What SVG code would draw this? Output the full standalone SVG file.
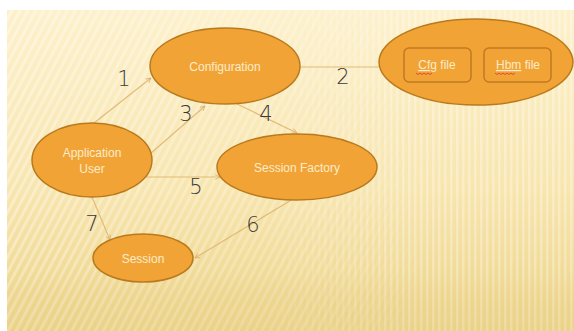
<svg xmlns="http://www.w3.org/2000/svg" width="574" height="331" viewBox="0 0 574 331">
  <defs>
    <linearGradient id="bg" x1="0" y1="0" x2="0" y2="1">
      <stop offset="0" stop-color="#fdf1cc"/>
      <stop offset="0.55" stop-color="#f8e6b0"/>
      <stop offset="0.82" stop-color="#f1db98"/>
      <stop offset="1" stop-color="#ecd38a"/>
    </linearGradient>
    <linearGradient id="band" x1="0" y1="0" x2="0" y2="1">
      <stop offset="0" stop-color="#e9cf85" stop-opacity="0"/>
      <stop offset="0.4" stop-color="#e9cf85" stop-opacity="0.2"/>
      <stop offset="1" stop-color="#e9cf85" stop-opacity="0.3"/>
    </linearGradient>
    <pattern id="stripes" width="7" height="7" patternUnits="userSpaceOnUse" patternTransform="rotate(28)">
      <rect width="3" height="7" fill="#ffffff" opacity="0.35"/>
    </pattern>
    <pattern id="vstripes" width="6" height="6" patternUnits="userSpaceOnUse">
      <rect width="2.5" height="6" fill="#ffffff" opacity="0.3"/>
    </pattern>
    <linearGradient id="fadeL" x1="0" y1="0" x2="1" y2="0">
      <stop offset="0" stop-color="#fff" stop-opacity="1"/>
      <stop offset="0.55" stop-color="#fff" stop-opacity="0.6"/>
      <stop offset="0.75" stop-color="#fff" stop-opacity="0"/>
    </linearGradient>
    <linearGradient id="fadeR" x1="0" y1="0" x2="1" y2="0">
      <stop offset="0.45" stop-color="#fff" stop-opacity="0"/>
      <stop offset="0.7" stop-color="#fff" stop-opacity="1"/>
    </linearGradient>
    <mask id="mL"><rect x="0" y="0" width="574" height="331" fill="url(#fadeL)"/></mask>
    <mask id="mR"><rect x="0" y="0" width="574" height="331" fill="url(#fadeR)"/></mask>
    <marker id="arr" viewBox="0 0 10 10" refX="9" refY="5" markerWidth="6" markerHeight="6" orient="auto" markerUnits="userSpaceOnUse">
      <path d="M1,1 L9,5 L1,9" fill="none" stroke="#dcb070" stroke-width="1.4"/>
    </marker>
  </defs>
  <style>
    .node { fill: #f1a435; stroke: #b97a1e; stroke-width: 1.5; }
    .box { fill: #f1a435; stroke: #c07a22; stroke-width: 1.5; }
    .lbl { font-family: "Liberation Sans", Arial, sans-serif; font-size: 12px; fill: #fcebcb; text-anchor: middle; }
    .num { font-family: "DejaVu Sans", "Liberation Sans", sans-serif; font-size: 21px; fill: #3a3a3a; font-weight: 300; text-anchor: middle; }
    .edge { stroke: #e2bb78; stroke-width: 1.2; fill: none; }
    .wave { stroke: #d33; stroke-width: 0.8; fill: none; }
  </style>

  <rect width="574" height="331" fill="#ffffff"/>
  <rect x="7" y="10" width="567" height="321" fill="url(#bg)"/>
  <rect x="7" y="10" width="567" height="321" fill="url(#stripes)" mask="url(#mL)"/>
  <rect x="7" y="10" width="567" height="321" fill="url(#vstripes)" mask="url(#mR)"/>
  <rect x="7" y="270" width="567" height="61" fill="url(#band)"/>

  <g id="connectors">
    <line class="edge" x1="94" y1="123" x2="151" y2="78" marker-end="url(#arr)"/>
    <line class="edge" x1="300" y1="67" x2="380" y2="67"/>
    <line class="edge" x1="150" y1="154" x2="205" y2="106" marker-end="url(#arr)"/>
    <line class="edge" x1="237" y1="104" x2="297" y2="133" marker-end="url(#arr)"/>
    <line class="edge" x1="143" y1="177" x2="220" y2="177" marker-end="url(#arr)"/>
    <line class="edge" x1="293" y1="199" x2="195" y2="258" marker-end="url(#arr)"/>
    <line class="edge" x1="92" y1="197" x2="110" y2="240" marker-end="url(#arr)"/>
  </g>

  <g id="labels">
    <text class="num" x="124" y="86">1</text>
    <text class="num" x="343" y="84">2</text>
    <text class="num" x="186" y="121">3</text>
    <text class="num" x="266" y="121">4</text>
    <text class="num" x="196" y="194">5</text>
    <text class="num" x="253" y="232">6</text>
    <text class="num" x="92" y="231">7</text>
  </g>

  <g id="configuration">
    <ellipse class="node" cx="225" cy="66" rx="75" ry="38"/>
    <text class="lbl" x="225" y="71">Configuration</text>
  </g>

  <g id="files">
    <ellipse class="node" cx="476" cy="62" rx="97" ry="43"/>
    <g id="cfg-file">
      <rect class="box" x="404" y="48" width="67" height="34" rx="5"/>
      <text class="lbl" x="437" y="69"><tspan text-decoration="underline">Cfg</tspan>  file</text>
      <path class="wave" d="M416,73 l2,1.5 l2,-1.5 l2,1.5 l2,-1.5 l2,1.5 l2,-1.5 l2,1.5 l2,-1.5"/>
    </g>
    <g id="hbm-file">
      <rect class="box" x="484" y="48" width="67" height="34" rx="5"/>
      <text class="lbl" x="518" y="69"><tspan text-decoration="underline">Hbm</tspan> file</text>
      <path class="wave" d="M495,73 l2,1.5 l2,-1.5 l2,1.5 l2,-1.5 l2,1.5 l2,-1.5 l2,1.5 l2,-1.5 l2,1.5 l2,-1.5"/>
    </g>
  </g>

  <g id="application-user">
    <ellipse class="node" cx="92" cy="160" rx="60" ry="37"/>
    <text class="lbl" x="92" y="157">Application</text>
    <text class="lbl" x="92" y="173">User</text>
  </g>

  <g id="session-factory">
    <ellipse class="node" cx="297" cy="167" rx="80" ry="33"/>
    <text class="lbl" x="297" y="172">Session Factory</text>
  </g>

  <g id="session">
    <ellipse class="node" cx="143" cy="258" rx="50" ry="24"/>
    <text class="lbl" x="143" y="263">Session</text>
  </g>
</svg>
